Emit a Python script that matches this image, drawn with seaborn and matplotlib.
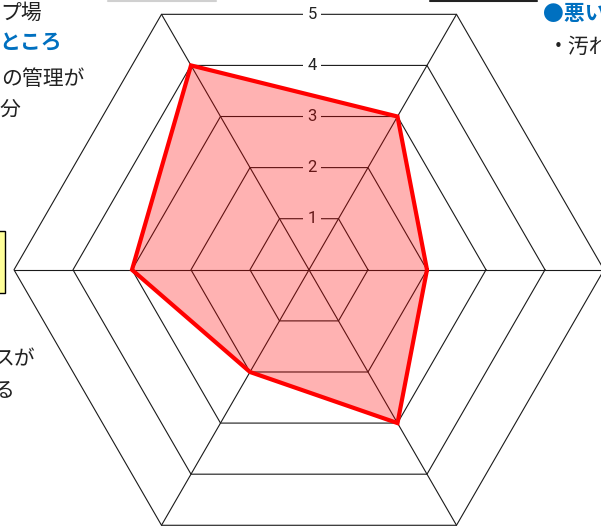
import numpy as np
import matplotlib
matplotlib.use("Agg")
import matplotlib.pyplot as plt
from matplotlib.patches import Rectangle
from matplotlib.lines import Line2D
import seaborn as sns

# radar values, counter-clockwise starting at the right-hand spoke
angles_deg = [0, 60, 120, 180, 240, 300]
scores = [2, 3, 4, 3, 2, 3]
levels = [1, 2, 3, 4, 5]
level_labels = ["1", "2", "3", "4", "5"]

# text fragments around the chart (cropped page)
left_lines = ["プ場", "ところ", "の管理が", "分", "スが", "る"]
left_y = [13, 43, 79, 110, 359, 391]
left_right = [42, 62, 85, 20, 36, 15]
left_blue = [False, True, False, False, False, False]
right_lines = ["●悪いところ", "・汚れ"]
right_y = [14, 47]
right_x = [543, 548]
right_blue = [True, False]

W, H = 601, 528
CX, CY = 309, 269.8
SCALE = 59.0  # pixels per score unit (circumradius)

sns.set_style("white")
plt.rcParams['font.family'] = ['Noto Sans CJK JP', 'DejaVu Sans']

fig = plt.figure(figsize=(W / 100, H / 100), dpi=100)
ax = fig.add_axes([0, 0, 1, 1])
ax.set_xlim(-CX / SCALE, (W - CX) / SCALE)
ax.set_ylim(-(H - CY) / SCALE, CY / SCALE)
ax.axis("off")

theta = np.deg2rad(angles_deg)
grid_col = "#1a1a1a"

# hexagon grid
for lv in levels:
    gx = list(lv * np.cos(theta)) + [lv * np.cos(theta[0])]
    gy = list(lv * np.sin(theta)) + [lv * np.sin(theta[0])]
    ax.plot(gx, gy, color=grid_col, lw=0.8, zorder=1)
# spokes
for t in theta:
    ax.plot([0, 5 * np.cos(t)], [0, 5 * np.sin(t)], color=grid_col, lw=0.8, zorder=1)

# scale labels sitting on the flat top edges
for lv, lab in zip(levels, level_labels):
    ax.text(0.05, lv * np.cos(np.pi / 6), lab, ha="center", va="center",
            fontsize=12, family=["Liberation Sans Narrow", "Roboto", "DejaVu Sans"],
            color="#222222", zorder=2,
            bbox=dict(boxstyle="square,pad=0.25", fc="white", ec="none"))

# data polygon
px = [s * np.cos(t) for s, t in zip(scores, theta)]
py = [s * np.sin(t) for s, t in zip(scores, theta)]
ax.fill(px, py, color="red", alpha=0.3, lw=0, zorder=3)
sns.lineplot(x=px + [px[0]], y=py + [py[0]], sort=False, estimator=None,
             errorbar=None, color="red", lw=3, ax=ax, zorder=4,
             solid_joinstyle="miter")

# surrounding page fragments
def fx(x):
    return x / W

def fy(y):
    return 1 - y / H

for txt, y, xr, blue in zip(left_lines, left_y, left_right, left_blue):
    fig.text(fx(xr), fy(y), txt, ha="right", va="center", fontsize=15,
             color="#0070C0" if blue else "#222222",
             fontweight="bold" if blue else "normal")
for txt, y, xl, blue in zip(right_lines, right_y, right_x, right_blue):
    fig.text(fx(xl), fy(y), txt, ha="left", va="center", fontsize=15,
             color="#0070C0" if blue else "#222222",
             fontweight="bold" if blue else "normal")

fig.add_artist(Rectangle((fx(-3), fy(293)), fx(8), (293 - 231) / H,
                         transform=fig.transFigure, fc="#FFFF99", ec="black", lw=1))
fig.add_artist(Line2D([fx(108), fx(216)], [fy(0.5), fy(0.5)],
                      transform=fig.transFigure, color="#d0d0d0", lw=1.5))
fig.add_artist(Line2D([fx(430), fx(537)], [fy(0.5), fy(0.5)],
                      transform=fig.transFigure, color="#222222", lw=1.5))

fig.savefig("out.png", dpi=100)
